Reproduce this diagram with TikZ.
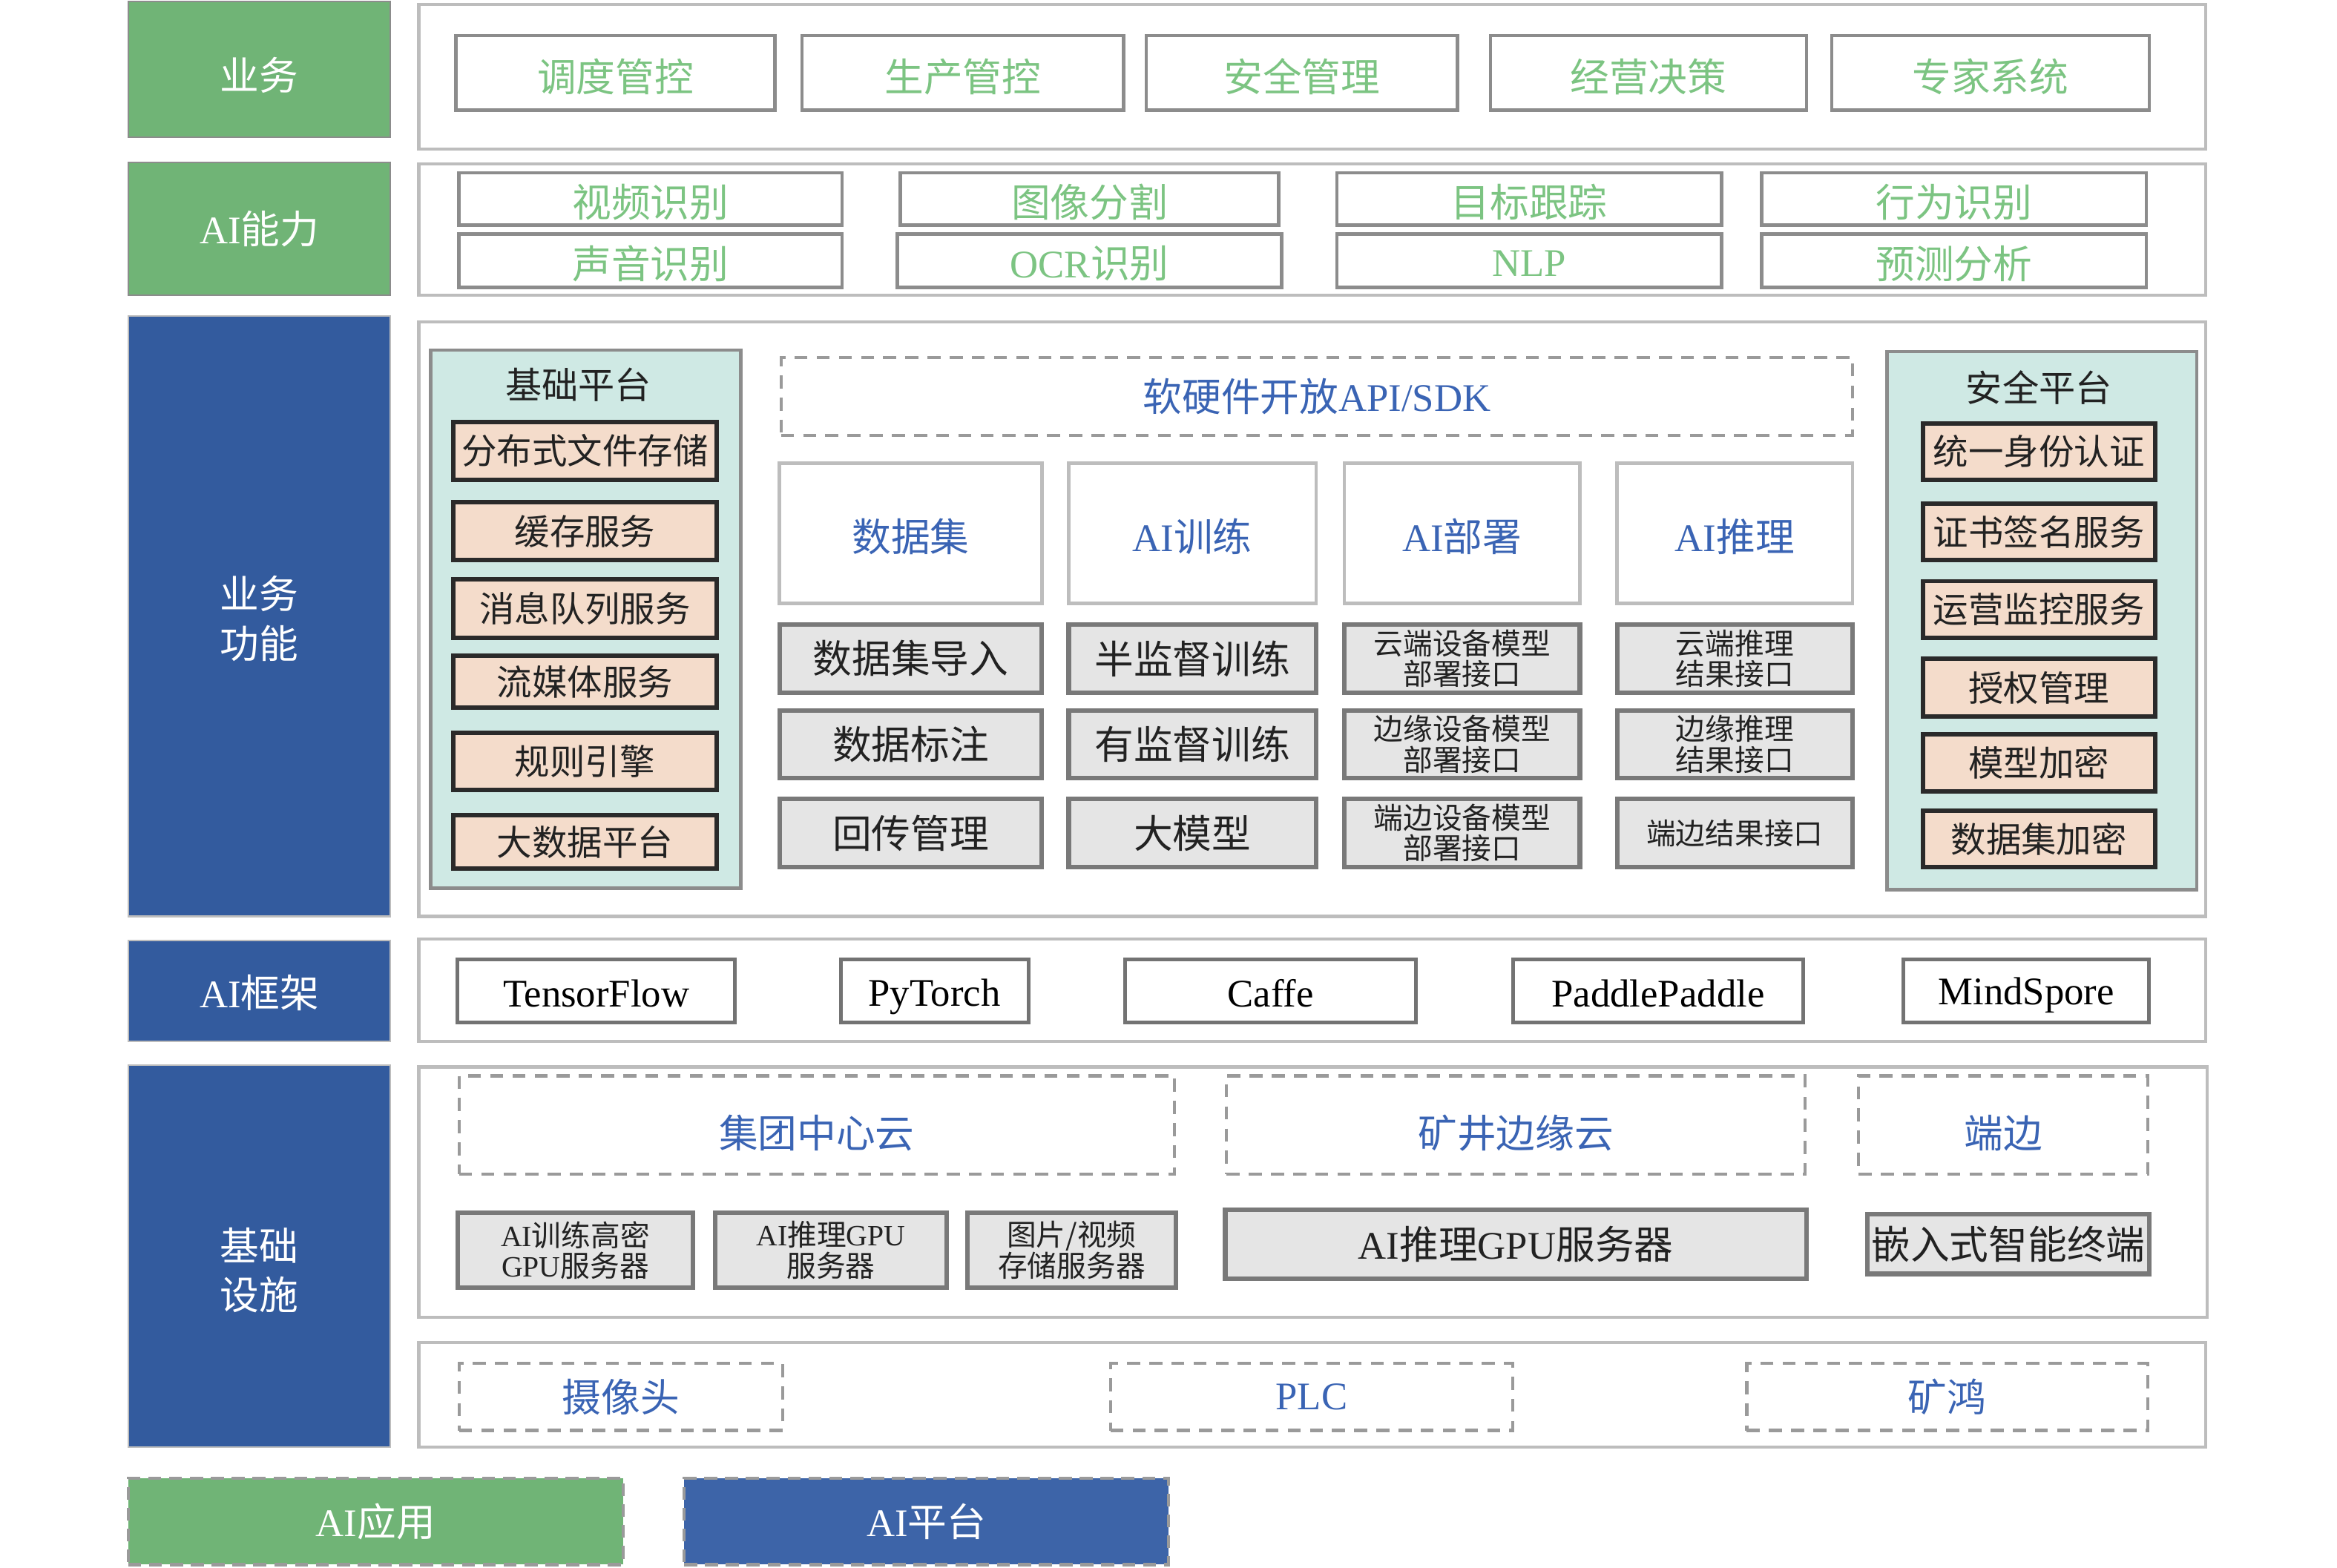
\documentclass[tikz,border=0pt]{standalone}
\usepackage{fontspec}
\setmainfont{Noto Sans CJK SC}
\newfontfamily\lat{Liberation Serif}
\newcommand\la[1]{{\lat #1}}
\definecolor{gfill}{HTML}{70B476}
\definecolor{bfill}{HTML}{335B9E}
\definecolor{bfillb}{HTML}{3D64A8}
\definecolor{btext}{HTML}{3A64B4}
\definecolor{gtext}{HTML}{7CC482}
\definecolor{teal}{HTML}{CFE9E4}
\definecolor{peach}{HTML}{F4DCCB}
\definecolor{gbox}{HTML}{E5E5E5}
\definecolor{pline}{HTML}{BDBDBD}
\definecolor{mline}{HTML}{8C8C8C}
\definecolor{dline}{HTML}{2A2A2A}
\definecolor{dash}{HTML}{9A9A9A}
\definecolor{ink}{HTML}{222222}
% \bx[text shift mm]{name}{style}{x1}{y1}{x2}{y2}{text}
\newcommand\bx[8][0]{%
  \node[#3, minimum width={(#6-#4)*0.20089mm}, minimum height={(#7-#5)*0.20089mm}] (#2) at ({(#4+#6)/2},{(#5+#7)/2}) {};
  \node[#3, draw=none, fill=none, yshift=-#1mm] (#2t) at (#2.center) {#8};}
\begin{document}
\begin{tikzpicture}[x=0.20089mm,y=-0.20089mm,
  base/.style={inner sep=0pt, outer sep=0pt, align=center, rectangle},
  lg/.style={base, fill=gfill, draw=mline, line width=0.6pt, text=white, font=\fontsize{15}{19}\selectfont},
  lb/.style={base, fill=bfill, draw=pline, line width=0.6pt, text=white, font=\fontsize{15}{19}\selectfont},
  lgd/.style={lg, draw=dash, line width=1.2pt, dash pattern=on 5pt off 3pt},
  lbd/.style={lb, fill=bfillb, draw=dash, line width=1.2pt, dash pattern=on 5pt off 3pt},
  panel/.style={base, fill=white, draw=pline, line width=1.2pt},
  gitem/.style={base, fill=white, draw=mline, line width=1.3pt, text=gtext, font=\fontsize{15}{18}\selectfont},
  tealp/.style={base, fill=teal, draw=mline, line width=1.3pt},
  ttl/.style={base, text=ink, font=\fontsize{14}{17}\selectfont},
  pitem/.style={base, fill=peach, draw=dline, line width=1.7pt, text=ink, font=\fontsize{13.5}{16}\selectfont},
  dbox/.style={base, draw=dash, line width=1.2pt, dash pattern=on 5pt off 3.5pt, text=btext, font=\fontsize{15}{18}\selectfont},
  wbox/.style={base, fill=white, draw=pline, line width=1.3pt, text=btext, font=\fontsize{15}{18}\selectfont},
  gyitem/.style={base, fill=gbox, draw=gray!95!black, line width=1.8pt, text=ink, font=\fontsize{15}{18}\selectfont},
  gysmall/.style={gyitem, font=\fontsize{11.3}{11.8}\selectfont},
  fwitem/.style={base, fill=white, draw=gray!90!black, line width=1.4pt, text=black, font=\lat\fontsize{15}{18}\selectfont}
]
\useasboundingbox (0,0) rectangle (1568,1052);
% left labels
\bx[0.8]{lyw}{lg}{86}{1}{262}{92}{业务}
\bx{lai}{lg}{86}{109}{262}{198}{\la{AI}能力}
\bx[0.3]{lgn}{lb}{86}{212}{262}{615}{业务\\功能}
\bx[0.2]{lkj}{lb}{86}{631}{262}{699}{\la{AI}框架}
\bx[1.9]{ljc}{lb}{86}{715}{262}{971}{基础\\设施}
\bx{gapp}{lgd}{86}{992}{418}{1050}{\la{AI}应用}
\bx{gplat}{lbd}{459}{992}{784}{1050}{\la{AI}平台}
% panels
\bx{p1}{panel}{281}{3}{1480}{100}{}
\bx{p2}{panel}{281}{110}{1480}{198}{}
\bx{p3}{panel}{281}{216}{1480}{615}{}
\bx{p4}{panel}{281}{630}{1480}{699}{}
\bx{p5}{panel}{281}{716}{1481}{884}{}
\bx{p6}{panel}{281}{901}{1480}{971}{}
% row 1
\bx[0.5]{r1a}{gitem}{306}{24}{520}{74}{调度管控}
\bx[0.5]{r1b}{gitem}{538}{24}{754}{74}{生产管控}
\bx[0.5]{r1c}{gitem}{769}{24}{978}{74}{安全管理}
\bx[0.5]{r1d}{gitem}{1000}{24}{1212}{74}{经营决策}
\bx[0.5]{r1e}{gitem}{1229}{24}{1442}{74}{专家系统}
% row 2
\bx[0.4]{r2a}{gitem}{308}{116}{565}{151}{视频识别}
\bx[0.4]{r2b}{gitem}{308}{157}{565}{193}{声音识别}
\bx[0.4]{r2c}{gitem}{604}{116}{858}{151}{图像分割}
\bx[0.4]{r2d}{gitem}{602}{157}{860}{193}{\la{OCR}识别}
\bx[0.4]{r2e}{gitem}{897}{116}{1155}{151}{目标跟踪}
\bx[0.4]{r2f}{gitem}{897}{157}{1155}{193}{\la{NLP}}
\bx[0.4]{r2g}{gitem}{1182}{116}{1440}{151}{行为识别}
\bx[0.4]{r2h}{gitem}{1182}{157}{1440}{193}{预测分析}
% row 3 : base platform
\bx{jcp}{tealp}{289}{235}{497}{596}{}
\node[ttl] (jct) at (388,258) {基础平台};
\bx{jc1}{pitem}{304}{283}{481}{322}{分布式文件存储}
\bx{jc2}{pitem}{304}{337}{481}{376}{缓存服务}
\bx{jc3}{pitem}{304}{389}{481}{428}{消息队列服务}
\bx{jc4}{pitem}{304}{440}{481}{475}{流媒体服务}
\bx{jc5}{pitem}{304}{492}{481}{530}{规则引擎}
\bx{jc6}{pitem}{304}{547}{481}{583}{大数据平台}
% security platform
\bx{aqp}{tealp}{1266}{236}{1474}{597}{}
\node[ttl] (aqt) at (1368,260) {安全平台};
\bx{aq1}{pitem}{1290}{284}{1446}{322}{统一身份认证}
\bx{aq2}{pitem}{1290}{338}{1446}{376}{证书签名服务}
\bx{aq3}{pitem}{1290}{390}{1446}{428}{运营监控服务}
\bx{aq4}{pitem}{1290}{442}{1446}{481}{授权管理}
\bx{aq5}{pitem}{1290}{493}{1446}{531}{模型加密}
\bx{aq6}{pitem}{1290}{544}{1446}{582}{数据集加密}
% API
\bx{api}{dbox}{524}{240}{1243}{292}{软硬件开放\la{API/SDK}}
% columns
\bx[0.4]{c1}{wbox}{523}{311}{699}{405}{数据集}
\bx[0.4]{c2}{wbox}{717}{311}{883}{405}{\la{AI}训练}
\bx[0.4]{c3}{wbox}{902}{311}{1060}{405}{\la{AI}部署}
\bx[0.4]{c4}{wbox}{1085}{311}{1243}{405}{\la{AI}推理}
\bx{c1a}{gyitem}{523}{419}{699}{465}{数据集导入}
\bx{c1b}{gyitem}{523}{477}{699}{522}{数据标注}
\bx{c1c}{gyitem}{523}{536}{699}{582}{回传管理}
\bx{c2a}{gyitem}{717}{419}{883}{465}{半监督训练}
\bx{c2b}{gyitem}{717}{477}{883}{522}{有监督训练}
\bx{c2c}{gyitem}{717}{536}{883}{582}{大模型}
\bx{c3a}{gysmall}{902}{419}{1060}{465}{云端设备模型\\部署接口}
\bx{c3b}{gysmall}{902}{477}{1060}{522}{边缘设备模型\\部署接口}
\bx{c3c}{gysmall}{902}{536}{1060}{582}{端边设备模型\\部署接口}
\bx{c4a}{gysmall}{1085}{419}{1243}{465}{云端推理\\结果接口}
\bx{c4b}{gysmall}{1085}{477}{1243}{522}{边缘推理\\结果接口}
\bx{c4c}{gysmall}{1085}{536}{1243}{582}{端边结果接口}
% row 4 frameworks
\bx[0.4]{f1}{fwitem}{307}{644}{493}{686}{TensorFlow}
\bx[0.8]{f2}{fwitem}{564}{644}{690}{686}{PyTorch}
\bx[0.3]{f3}{fwitem}{755}{644}{950}{686}{Caffe}
\bx[0.4]{f4}{fwitem}{1015}{644}{1210}{686}{PaddlePaddle}
\bx[0.6]{f5}{fwitem}{1277}{644}{1442}{686}{MindSpore}
% row 5 infrastructure
\bx[1.1]{i1}{dbox}{308}{722}{788}{788}{集团中心云}
\bx[1.1]{i2}{dbox}{823}{722}{1211}{788}{矿井边缘云}
\bx[1.1]{i3}{dbox}{1247}{722}{1441}{788}{端边}
\bx{s1}{gysmall}{307}{814}{465}{864}{\la{AI}训练高密\\\la{GPU}服务器}
\bx{s2}{gysmall}{480}{814}{635}{864}{\la{AI}推理\la{GPU}\\服务器}
\bx{s3}{gysmall}{649}{814}{789}{864}{图片/视频\\存储服务器}
\bx{s4}{gyitem}{822}{812}{1212}{858}{\la{AI}推理\la{GPU}服务器}
\bx{s5}{gyitem}{1253}{815}{1442}{855}{嵌入式智能终端}
% row 6 devices
\bx{d1}{dbox}{308}{915}{525}{960}{摄像头}
\bx{d2}{dbox}{745}{915}{1015}{960}{\la{PLC}}
\bx{d3}{dbox}{1172}{915}{1441}{960}{矿鸿}
\end{tikzpicture}
\end{document}
